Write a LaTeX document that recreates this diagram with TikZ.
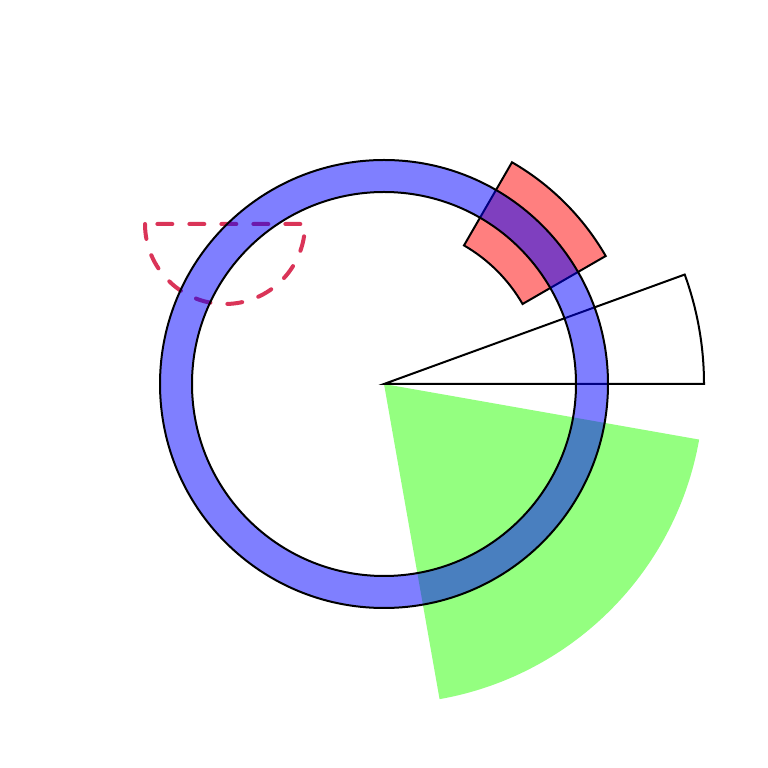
\documentclass[tikz,border=0pt]{standalone}
\definecolor{greenfill}{RGB}{148,255,128}
\definecolor{dashred}{RGB}{218,52,88}
\begin{document}
\begin{tikzpicture}[x=1pt,y=1pt,
  outline/.style={draw=black,line width=2pt,line join=miter},
  ringstyle/.style={outline,fill=blue,fill opacity=0.5,even odd rule},
  redsector/.style={outline,fill=red,fill opacity=0.5},
  greenwedge/.style={fill=greenfill},
  dashsemi/.style={draw=dashred,line width=4pt,line cap=round,dash pattern=on 15pt off 17pt}]
\useasboundingbox (0,0) rectangle (768,768);
\coordinate (c) at (384,384);
\coordinate (d) at (225,544);
% green wedge
\path[greenwedge] (c) -- ([shift={(c)}]-10:320pt) arc[start angle=-10,end angle=-80,radius=320pt] -- cycle;
% red annular sector
\path[redsector] ([shift={(c)}]30:256pt) arc[start angle=30,end angle=60,radius=256pt]
  -- ([shift={(c)}]60:160pt) arc[start angle=60,end angle=30,radius=160pt] -- cycle;
% black wedge outline
\draw[outline] (c) -- ([shift={(c)}]0:320pt) arc[start angle=0,end angle=20,radius=320pt] -- cycle;
% dashed semicircle
\draw[dashsemi] ([shift={(d)}]180:80pt) arc[start angle=180,end angle=360,radius=80pt] -- cycle;
% blue ring
\path[ringstyle] (c) circle[radius=224pt] (c) circle[radius=192pt];
\end{tikzpicture}
\end{document}
